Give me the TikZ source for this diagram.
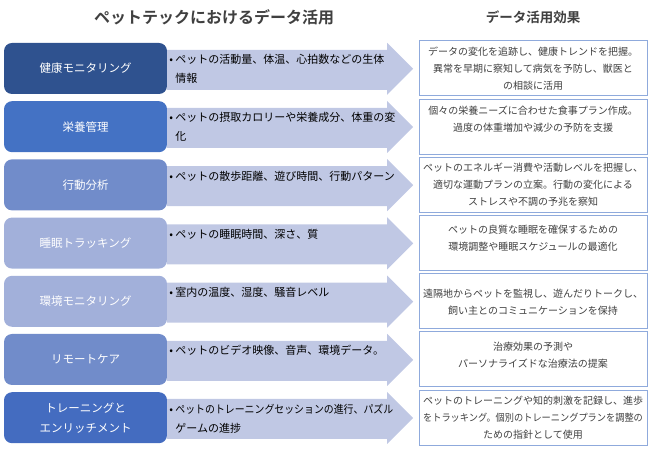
\documentclass[tikz,border=0pt]{standalone}
\usepackage{fontspec}
\setmainfont{Noto Sans CJK JP}[BoldFont={Noto Sans CJK JP Bold}]
\usepackage{tikz}
\usetikzlibrary{
    calc,
    positioning,
}
\definecolor{darkNavy}{RGB}{47,82,143}
\definecolor{midBlue}{RGB}{68,114,196}
\definecolor{softBlue}{RGB}{113,140,202}
\definecolor{paleBlue}{RGB}{162,176,218}
\definecolor{deepBlue}{RGB}{68,108,192}
\definecolor{arrowFill}{RGB}{192,200,228}
\definecolor{effectLine}{RGB}{143,170,220}
\definecolor{titleGray}{RGB}{64,64,64}

\begin{document}
\begin{tikzpicture}[x=1pt,y=1pt]

    \tikzstyle{commonNode}=[align=center, inner sep=0pt]
    \tikzstyle{module}=[commonNode, rectangle, rounded corners=8pt, minimum width=163pt, minimum height=51pt, text=white, font=\fontsize{11.5}{20}\selectfont]
    \tikzstyle{effect}=[commonNode, rectangle, draw=effectLine, line width=1pt, fill=white, minimum width=228pt, minimum height=55pt]
    \tikzstyle{effectText}=[commonNode, text width=226pt, text=titleGray, font=\fontsize{10}{17}\selectfont]
    \tikzstyle{dataText}=[commonNode, align=left, text=black, font=\fontsize{11}{19}\selectfont]
    \tikzstyle{dataArrow}=[fill=arrowFill]
    \tikzstyle{heading}=[commonNode, text=titleGray]

    \useasboundingbox (0,0) rectangle (650,449);

    \begin{scope}
        % Spacing the rows out
        \def \vspacing {58.2}
        \def \ytop {380.5}
        \def \lx {85.5}
        \def \rx {533}

        % Titles
        \node at (214, 432) [heading, font=\bfseries\fontsize{16}{16}\selectfont] (Title) {ペットテックにおけるデータ活用};
        \node at (\rx, 432) [heading, font=\bfseries\fontsize{13.5}{14}\selectfont] (EffectTitle) {データ活用効果};

        % Topics
        \node at (\lx, \ytop-0*\vspacing) [module, fill=darkNavy] (HM) {健康モニタリング};
        \node at (\lx, \ytop-1*\vspacing) [module, fill=midBlue]  (NM) {栄養管理};
        \node at (\lx, \ytop-2*\vspacing) [module, fill=softBlue] (BA) {行動分析};
        \node at (\lx, \ytop-3*\vspacing) [module, fill=paleBlue] (ST) {睡眠トラッキング};
        \node at (\lx, \ytop-4*\vspacing) [module, fill=paleBlue] (EM) {環境モニタリング};
        \node at (\lx, \ytop-5*\vspacing) [module, fill=softBlue] (RC) {リモートケア};
        \node at (\lx, \ytop-6*\vspacing) [module, fill=deepBlue] (TE) {トレーニングと\\エンリッチメント};

        % Arrows
        \fill[dataArrow] (HM.north east) ++(0,-7) -- ++(220,0) -- ++(0,7) -- ++(26,-26) -- ++(-26,-26) -- ++(0,5) -- ++(-220,0) -- cycle;
        \fill[dataArrow] (NM.north east) ++(0,-7) -- ++(220,0) -- ++(0,7) -- ++(26,-26) -- ++(-26,-26) -- ++(0,5) -- ++(-220,0) -- cycle;
        \fill[dataArrow] (BA.north east) ++(0,-7) -- ++(220,0) -- ++(0,7) -- ++(26,-26) -- ++(-26,-26) -- ++(0,5) -- ++(-220,0) -- cycle;
        \fill[dataArrow] (ST.north east) ++(0,-7) -- ++(220,0) -- ++(0,7) -- ++(26,-26) -- ++(-26,-26) -- ++(0,5) -- ++(-220,0) -- cycle;
        \fill[dataArrow] (EM.north east) ++(0,-7) -- ++(220,0) -- ++(0,7) -- ++(26,-26) -- ++(-26,-26) -- ++(0,5) -- ++(-220,0) -- cycle;
        \fill[dataArrow] (RC.north east) ++(0,-7) -- ++(220,0) -- ++(0,7) -- ++(26,-26) -- ++(-26,-26) -- ++(0,5) -- ++(-220,0) -- cycle;
        \fill[dataArrow] (TE.north east) ++(0,-7) -- ++(220,0) -- ++(0,7) -- ++(26,-26) -- ++(-26,-26) -- ++(0,5) -- ++(-220,0) -- cycle;

        % Data collected
        \node [dataText, below right=11.5pt and 2pt of HM.north east] (HMd) {\makebox[6pt][l]{•}ペットの活動量、体温、心拍数などの生体\\\hspace*{6pt}情報};
        \node [dataText, below right=11.5pt and 2pt of NM.north east] (NMd) {\makebox[6pt][l]{•}ペットの摂取カロリーや栄養成分、体重の変\\\hspace*{6pt}化};
        \node [dataText, below right=11.5pt and 2pt of BA.north east] (BAd) {\makebox[6pt][l]{•}ペットの散歩距離、遊び時間、行動パターン};
        \node [dataText, below right=11.5pt and 2pt of ST.north east] (STd) {\makebox[6pt][l]{•}ペットの睡眠時間、深さ、質};
        \node [dataText, below right=11.5pt and 2pt of EM.north east] (EMd) {\makebox[6pt][l]{•}室内の温度、湿度、騒音レベル};
        \node [dataText, below right=11.5pt and 2pt of RC.north east] (RCd) {\makebox[6pt][l]{•}ペットのビデオ映像、音声、環境データ。};
        \node [dataText, below right=11.5pt and 2pt of TE.north east] (TEd) {\makebox[6pt][l]{•}\scalebox{0.9}[1]{ペットのトレーニングセッションの進行、パズル}\\\hspace*{6pt}ゲームの進捗};

        % Effects
        \node at (\rx, \ytop-0*\vspacing) [effect] (HMe) {};
        \node at (\rx, \ytop-1*\vspacing) [effect] (NMe) {};
        \node at (\rx, \ytop-2*\vspacing) [effect] (BAe) {};
        \node at (\rx, \ytop-3*\vspacing) [effect] (STe) {};
        \node at (\rx, \ytop-4*\vspacing) [effect] (EMe) {};
        \node at (\rx, \ytop-5*\vspacing) [effect] (RCe) {};
        \node at (\rx, \ytop-6*\vspacing) [effect] (TEe) {};

        \node [effectText, below=6pt of HMe.north] (HMt) {データの変化を追跡し、健康トレンドを把握。\\異常を早期に察知して病気を予防し、獣医と\\の相談に活用};
        \node [effectText, below=7pt of NMe.north] (NMt) {個々の栄養ニーズに合わせた食事プラン作成。\\過度の体重増加や減少の予防を支援};
        \node [effectText, below=6pt of BAe.north] (BAt) {ペットのエネルギー消費や活動レベルを把握し、\\適切な運動プランの立案。行動の変化による\\ストレスや不調の予兆を察知};
        \node [effectText, below=10pt of STe.north] (STt) {ペットの良質な睡眠を確保するための\\環境調整や睡眠スケジュールの最適化};
        \node [effectText, below=16pt of EMe.north] (EMt) {遠隔地からペットを監視し、遊んだりトークし、\\飼い主とのコミュニケーションを保持};
        \node [effectText, below=10pt of RCe.north] (RCt) {治療効果の予測や\\パーソナライズドな治療法の提案};
        \node [effectText, below=6pt of TEe.north] (TEt) {ペットのトレーニングや知的刺激を記録し、進歩\\\scalebox{0.92}[1]{をトラッキング。個別のトレーニングプランを調整の}\\ための指針として使用};
    \end{scope}

\end{tikzpicture}
\end{document}
